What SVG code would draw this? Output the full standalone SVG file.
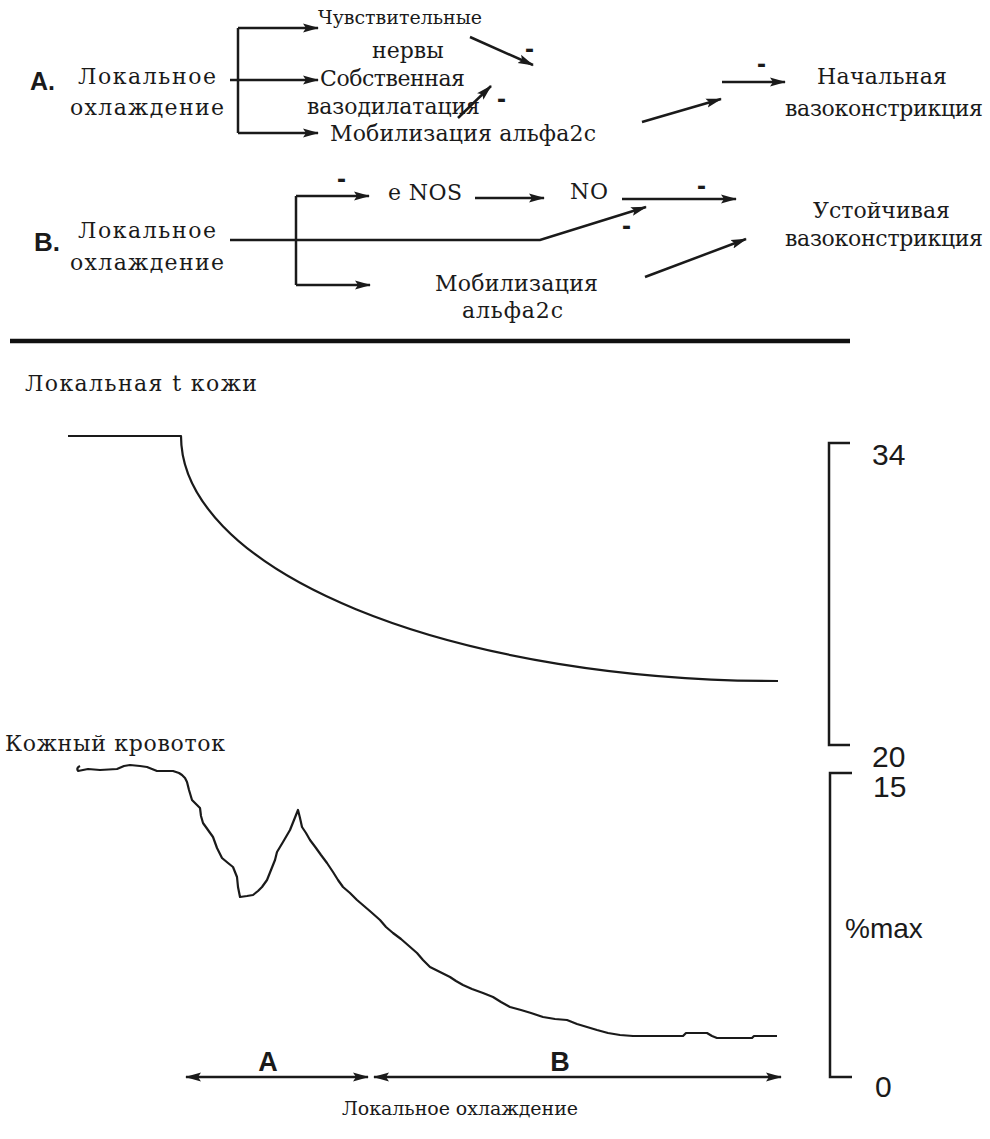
<svg xmlns="http://www.w3.org/2000/svg" width="990" height="1139" viewBox="0 0 990 1139">
<style>
.t{font-family:"DejaVu Serif","Liberation Serif",serif;font-size:22px;fill:#1a1a1a}
.b{font-family:"Liberation Sans",Arial,sans-serif;font-weight:bold;fill:#1a1a1a}
.n{font-family:"Liberation Sans",Arial,sans-serif;font-size:30px;fill:#1a1a1a}
.m{font-family:"Liberation Sans",Arial,sans-serif;font-weight:bold;font-size:27px;fill:#1a1a1a}
.c{fill:none;stroke:#1a1a1a;stroke-width:2.5}
.cv{fill:none;stroke:#1a1a1a;stroke-width:2.2;stroke-linejoin:round}
.ar{marker-end:url(#ah)}
.da{marker-end:url(#ah);marker-start:url(#ahs)}
</style>
<defs>
<marker id="ah" markerUnits="userSpaceOnUse" markerWidth="16" markerHeight="10" refX="15" refY="5" orient="auto">
<path d="M0,0.5 L16,5 L0,9.5 L3,5 z" fill="#1a1a1a"/>
</marker>
<marker id="ahs" markerUnits="userSpaceOnUse" markerWidth="16" markerHeight="10" refX="15" refY="5" orient="auto-start-reverse">
<path d="M0,0.5 L16,5 L0,9.5 L3,5 z" fill="#1a1a1a"/>
</marker>
</defs>

<g id="connectors">
<path class="c" d="M238,28 V133"/>
<path class="c ar" d="M238,28 H318"/>
<path class="c ar" d="M230,80 H318"/>
<path class="c ar" d="M238,133 H318"/>
<path class="c ar" d="M470,37 L533,65"/>
<path class="c ar" d="M458,118 L491,86"/>
<path class="c ar" d="M642,122 L721,99"/>
<path class="c ar" d="M722,82 H785"/>
<path class="c" d="M296,196 V285"/>
<path class="c ar" d="M296,196 H369"/>
<path class="c ar" d="M296,285 H370"/>
<path class="c ar" d="M230,240 H540 L646,207"/>
<path class="c ar" d="M475,198 H544"/>
<path class="c ar" d="M622,199 H736"/>
<path class="c ar" d="M645,277 L746,239"/>
<path d="M10,341 H850" stroke="#111" stroke-width="4.5"/>
<path class="c da" d="M186,1077 H368"/>
<path class="c da" d="M374,1077 H781"/>
</g>

<g id="node-a-label"><text class="b" x="30" y="90" font-size="25">A.</text></g>
<g id="node-a-cooling">
<text class="t" x="78" y="84" textLength="138" lengthAdjust="spacing">Локальное</text>
<text class="t" x="70" y="115" textLength="154" lengthAdjust="spacing">охлаждение</text>
</g>
<g id="node-a-nerves">
<text class="t" x="318" y="24" style="font-size:19px" textLength="164" lengthAdjust="spacing">Чувствительные</text>
<text class="t" x="372" y="58">нервы</text>
</g>
<g id="node-a-vasodil">
<text class="t" x="320" y="86" textLength="145" lengthAdjust="spacing">Собственная</text>
<text class="t" x="307" y="114" textLength="173" lengthAdjust="spacing">вазодилатация</text>
</g>
<g id="node-a-alpha"><text class="t" x="330" y="141" textLength="266" lengthAdjust="spacing">Мобилизация альфа2с</text></g>
<g id="node-a-result">
<text class="t" x="817" y="84" textLength="130" lengthAdjust="spacing">Начальная</text>
<text class="t" x="785" y="116" textLength="198" lengthAdjust="spacing">вазоконстрикция</text>
</g>
<g id="minus-a">
<text class="m" x="525" y="58">-</text>
<text class="m" x="497" y="108">-</text>
<text class="m" x="757" y="73">-</text>
</g>

<g id="node-b-label"><text class="b" x="34" y="251" font-size="26">B.</text></g>
<g id="node-b-cooling">
<text class="t" x="78" y="238" textLength="138" lengthAdjust="spacing">Локальное</text>
<text class="t" x="70" y="270" textLength="154" lengthAdjust="spacing">охлаждение</text>
</g>
<g id="node-b-enos"><text class="t" x="388" y="200" textLength="74" lengthAdjust="spacing">e NOS</text></g>
<g id="node-b-no"><text class="t" x="570" y="199" textLength="38" lengthAdjust="spacing">NO</text></g>
<g id="node-b-alpha">
<text class="t" x="435" y="291" textLength="163" lengthAdjust="spacing">Мобилизация</text>
<text class="t" x="462" y="318" textLength="101" lengthAdjust="spacing">альфа2с</text>
</g>
<g id="node-b-result">
<text class="t" x="813" y="218" textLength="137" lengthAdjust="spacing">Устойчивая</text>
<text class="t" x="785" y="246" textLength="198" lengthAdjust="spacing">вазоконстрикция</text>
</g>
<g id="minus-b">
<text class="m" x="337" y="188">-</text>
<text class="m" x="697" y="195">-</text>
<text class="m" x="622" y="235">-</text>
</g>

<g id="plot-temperature">
<text class="t" x="25" y="391" textLength="232" lengthAdjust="spacing">Локальная t кожи</text>
<path class="cv" d="M68,436 H181 A597,245 0 0 0 778,681"/>
<path class="c" d="M850,443 H829 V745 H850"/>
<text class="n" x="872" y="465">34</text>
<text class="n" x="872" y="767">20</text>
</g>

<g id="plot-flow">
<text class="t" x="5" y="751" textLength="220" lengthAdjust="spacing">Кожный кровоток</text>
<path class="cv" stroke-width="2.5" d="M80,766 Q76,768 78,771 L88,769 L100,770 L117,769 L124,766 L130,765 L140,766 L147,767 L152,769 L157,771 L173,771 L179,773 L182,775 L185,778 L187,782 L189,790 L192,800 L197,805 L200,808 L201,816 L203,823 L208,830 L213,837 L217,848 L222,858 L228,863 L233,867 L235,872 L237,877 L238,887 L240,897 L247,896 L253,895 L258,891 L262,887 L267,880 L271,870 L275,860 L277,852 L283,842 L290,830 L294,820 L298,810 L300,818 L302,827 L306,833 L310,840 L316,848 L321,855 L327,863 L333,872 L338,880 L343,887 L350,893 L357,900 L364,906 L371,912 L380,920 L386,927 L393,933 L401,939 L409,946 L417,953 L423,960 L430,967 L440,972 L450,977 L456,981 L463,985 L472,989 L483,993 L493,997 L501,1002 L510,1007 L521,1010 L531,1013 L543,1017 L555,1019 L567,1020 L577,1024 L587,1027 L597,1030 L608,1033 L620,1035 L633,1036 L660,1036 L683,1036 L686,1033 L707,1033 L712,1036 L717,1038 L752,1038 L754,1036 L777,1036"/>
<path class="c" d="M852,773 H830 V1077 H852"/>
<text class="n" x="873" y="797">15</text>
<text class="n" x="845" y="938" style="font-size:28px">%max</text>
<text class="n" x="875" y="1097">0</text>
<text class="b" x="268" y="1071" font-size="27" text-anchor="middle">A</text>
<text class="b" x="560" y="1071" font-size="27" text-anchor="middle">B</text>
<text class="t" x="342" y="1115" style="font-size:19px" textLength="236" lengthAdjust="spacing">Локальное охлаждение</text>
</g>
</svg>
